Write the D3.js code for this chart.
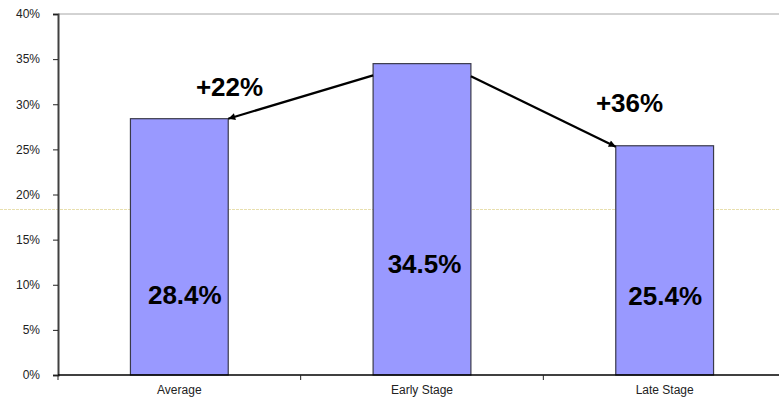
<!DOCTYPE html>
<html>
<head>
<meta charset="utf-8">
<script src="https://cdn.jsdelivr.net/npm/d3@7"></script>
<style>
  body { margin: 0; background: #fff; }
  svg { display: block; font-family: "Liberation Sans", Arial, sans-serif; }
</style>
</head>
<body>
<div id="chart"></div>
<script>
// data
const categories = ["Average", "Early Stage", "Late Stage"];
const values = [28.4, 34.5, 25.4];
const yTicks = [0, 5, 10, 15, 20, 25, 30, 35, 40];
const refValue = 18.4; // faint dashed line
const arrows = [
  { from: "Early Stage", to: "Average", startValue: 33.2, label: "+22%" },
  { from: "Early Stage", to: "Late Stage", startValue: 33.1, label: "+36%" }
];

const width = 779, height = 400;
const margin = { top: 14, right: -7, bottom: 25, left: 58 };

const svg = d3.select("#chart").append("svg")
  .attr("width", width)
  .attr("height", height);

const x = d3.scaleBand()
  .domain(categories)
  .range([margin.left, width - margin.right])
  .padding(0);

const y = d3.scaleLinear()
  .domain([0, 40])
  .range([height - margin.bottom, margin.top]);

const barW = x.bandwidth() * 0.403;
const barX = c => x(c) + (x.bandwidth() - barW) / 2;

// faint reference line (behind everything)
svg.append("line")
  .attr("x1", 0).attr("x2", width)
  .attr("y1", Math.round(y(refValue)) + 0.5).attr("y2", Math.round(y(refValue)) + 0.5)
  .attr("stroke", "#e8dfae")
  .attr("stroke-dasharray", "3,1");

// top border of plot area
svg.append("line")
  .attr("x1", margin.left).attr("x2", width)
  .attr("y1", y(40)).attr("y2", y(40))
  .attr("stroke", "#a6a6a6");

// bars
svg.append("g")
  .selectAll("rect")
  .data(values)
  .enter()
  .append("rect")
  .attr("x", (d, i) => barX(categories[i]))
  .attr("y", d => y(d))
  .attr("width", barW)
  .attr("height", d => y(0) - y(d))
  .attr("fill", "#9999ff")
  .attr("stroke", "#3a3a4a")
  .attr("stroke-width", 1.2);

// value labels inside bars
const labelBaseline = [304, 273, 305];
const labelDx = [5.5, 2.5, 0.5];
svg.append("g")
  .selectAll("text")
  .data(values)
  .enter()
  .append("text")
  .attr("x", (d, i) => x(categories[i]) + x.bandwidth() / 2 + labelDx[i])
  .attr("y", (d, i) => labelBaseline[i])
  .attr("text-anchor", "middle")
  .attr("font-size", "26px")
  .attr("font-weight", "bold")
  .attr("fill", "#000")
  .text(d => d.toFixed(1) + "%");

// y axis
const yAxis = svg.append("g")
  .attr("transform", `translate(${margin.left},0)`)
  .call(d3.axisLeft(y).tickValues(yTicks).tickSize(5).tickPadding(13).tickFormat(d => d + "%"));
yAxis.select(".domain").attr("stroke", "#404040").attr("stroke-width", 2);
yAxis.selectAll(".tick line").attr("stroke", "#222");
yAxis.selectAll("text").attr("font-size", "12px").attr("fill", "#222").attr("font-family", "Liberation Sans, Arial, sans-serif");

// x axis: ticks at category boundaries
const xAxis = svg.append("g")
  .attr("transform", `translate(0,${y(0)})`);
xAxis.append("line")
  .attr("x1", margin.left).attr("x2", width)
  .attr("stroke", "#000").attr("stroke-width", 1.5);
xAxis.selectAll(".bnd")
  .data(categories)
  .enter()
  .append("line")
  .attr("x1", d => x(d)).attr("x2", d => x(d))
  .attr("y1", 0).attr("y2", 5)
  .attr("stroke", "#222");
xAxis.selectAll(".lbl")
  .data(categories)
  .enter()
  .append("text")
  .attr("x", d => x(d) + x.bandwidth() / 2)
  .attr("y", 19)
  .attr("text-anchor", "middle")
  .attr("font-size", "12px")
  .attr("fill", "#222")
  .text(d => d);

// arrows
svg.append("defs").append("marker")
  .attr("id", "head")
  .attr("viewBox", "0 0 10 10")
  .attr("refX", 10).attr("refY", 5)
  .attr("markerWidth", 9).attr("markerHeight", 7)
  .attr("markerUnits", "userSpaceOnUse")
  .attr("orient", "auto")
  .append("path")
  .attr("d", "M0,0L10,5L0,10Z")
  .attr("fill", "#000");

const annPos = [{ x: 229.5, y: 96 }, { x: 629.5, y: 112 }];
arrows.forEach((a, i) => {
  const fi = categories.indexOf(a.from), ti = categories.indexOf(a.to);
  const left = ti < fi;
  const x1 = left ? barX(a.from) : barX(a.from) + barW;
  const x2 = left ? barX(a.to) + barW : barX(a.to);
  svg.append("line")
    .attr("x1", x1).attr("y1", y(a.startValue))
    .attr("x2", x2).attr("y2", y(values[ti]) + (left ? 0 : 1))
    .attr("stroke", "#000")
    .attr("stroke-width", 2.2)
    .attr("marker-end", "url(#head)");
  svg.append("text")
    .attr("x", annPos[i].x)
    .attr("y", annPos[i].y)
    .attr("text-anchor", "middle")
    .attr("font-size", "26px")
    .attr("font-weight", "bold")
    .attr("fill", "#000")
    .text(a.label);
});
</script>
</body>
</html>
